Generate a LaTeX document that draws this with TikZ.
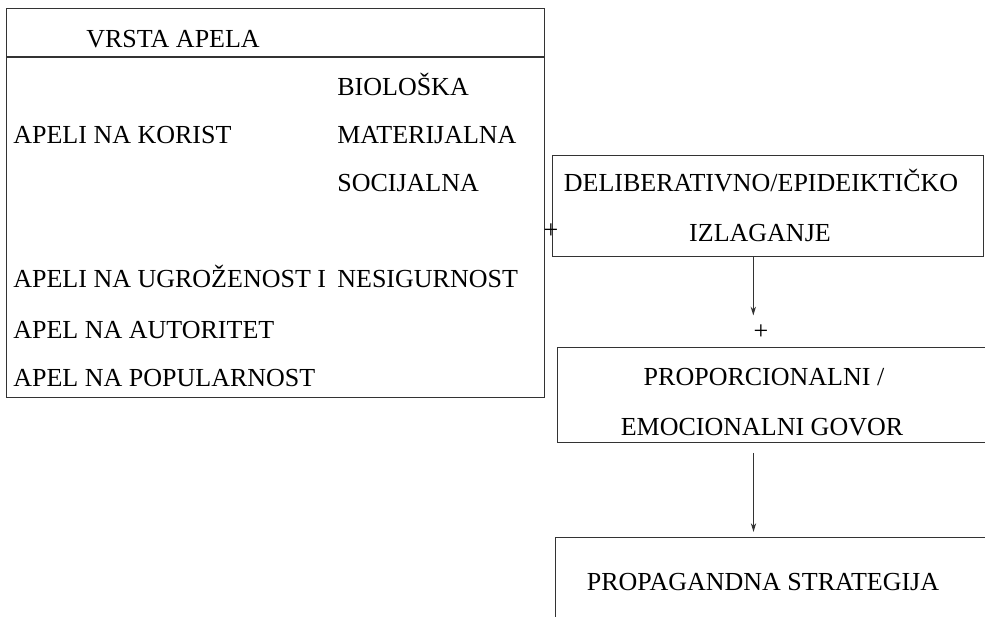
\documentclass[tikz,border=0pt]{standalone}
\usepackage{fontspec}
\setmainfont{Liberation Serif}
\usetikzlibrary{arrows.meta}
\begin{document}
\begin{tikzpicture}[x=0.02cm, y=-0.02cm]
	\tikzstyle{box}=[draw=black!80, line width=0.6pt, inner sep=0, anchor=north west]
	\tikzstyle{txt}=[black, font=\fontsize{14.8}{17}\selectfont, inner sep=0, anchor=base west]
	\tikzstyle{mid}=[black, font=\fontsize{14.8}{17}\selectfont, inner sep=0, anchor=base]
	\tikzstyle{arr}=[black!80, line width=0.6pt, -{Stealth[length=5pt,width=3pt]}]

	\useasboundingbox (0,0) rectangle (985,617);
	\clip (0,0) rectangle (985,617);

	\node[box, minimum width=10.76cm, minimum height=7.78cm] (V) at (6,8) {};
	\draw[black!80, line width=0.6pt] ([yshift=-0.98cm]V.north west) -- ([yshift=-0.98cm]V.north east);

	\node[txt] (V0) at (86,48) {VRSTA APELA};
	\node[txt] (K1) at (337,96) {BIOLOŠKA};
	\node[txt] (K0) at (13,144) {APELI NA KORIST};
	\node[txt] (K2) at (337,144) {MATERIJALNA};
	\node[txt] (K3) at (337,192) {SOCIJALNA};
	\node[txt] (U0) at (13,288) {APELI NA UGROŽENOST I};
	\node[txt] (U1) at (337,288) {NESIGURNOST};
	\node[txt] (A0) at (13,339) {APEL NA AUTORITET};
	\node[txt] (P0) at (13,387) {APEL NA POPULARNOST};

	\node[box, minimum width=8.62cm, minimum height=2.02cm] (D) at (552,155) {};
	\node[mid] (D1) at (761,192) {DELIBERATIVNO/EPIDEIKTIČKO};
	\node[mid] (D2) at (760,242) {IZLAGANJE};
	\node[mid] (plusA) at (551,238.5) {+};

	\node[mid] (plusB) at (761,339.5) {+};

	\node[box, minimum width=9.2cm, minimum height=1.9cm] (E) at (557,347) {};
	\node[mid] (E1) at (764,386) {PROPORCIONALNI /};
	\node[mid] (E2) at (762,436) {EMOCIONALNI GOVOR};

	\node[box, minimum width=9.2cm, minimum height=2.5cm] (S) at (555,537) {};
	\node[mid] (S1) at (763,591) {PROPAGANDNA STRATEGIJA};

	\coordinate (a2) at (753.5,453);

	\draw[arr, shorten >=0.18cm] (D.south -| plusB.west) -- (plusB.north -| plusB.west);
	\draw[arr, shorten >=0.1cm] (a2) -- (a2 |- S.north);
\end{tikzpicture}
\end{document}
